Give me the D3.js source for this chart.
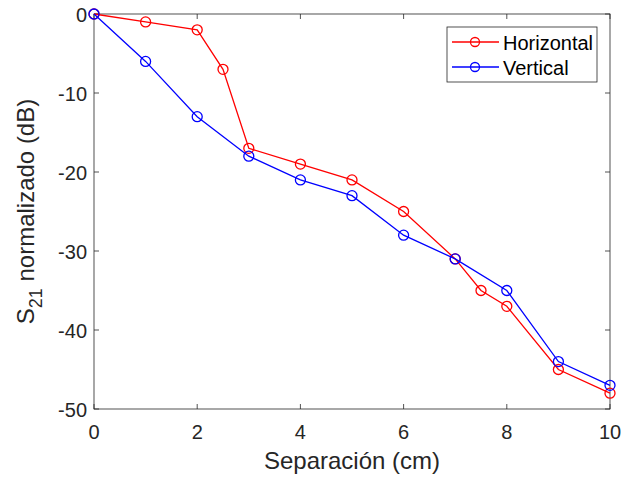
<!DOCTYPE html>
<html>
<head>
<meta charset="utf-8">
<script src="https://cdn.jsdelivr.net/npm/d3@7"></script>
<style>
  body { margin: 0; background: #fff; }
  text { font-family: "Liberation Sans", Arial, sans-serif; }
</style>
</head>
<body>
<div id="chart"></div>
<script>
// data
var horizX = [0, 1, 2, 2.5, 3, 4, 5, 6, 7, 7.5, 8, 9, 10];
var horizY = [0, -1, -2, -7, -17, -19, -21, -25, -31, -35, -37, -45, -48];
var vertX = [0, 1, 2, 3, 4, 5, 6, 7, 8, 9, 10];
var vertY = [0, -6, -13, -18, -21, -23, -28, -31, -35, -44, -47];
var xTicks = [0, 2, 4, 6, 8, 10];
var yTicks = [0, -10, -20, -30, -40, -50];

var W = 635, H = 477;
var mLeft = 94, mRight = 610, mTop = 14, mBottom = 409;

var svg = d3.select("#chart").append("svg").attr("width", W).attr("height", H);

var x = d3.scaleLinear().domain([0, 10]).range([mLeft, mRight]);
var y = d3.scaleLinear().domain([-50, 0]).range([mBottom, mTop]);

var axisColor = "#262626";
var tickLen = 5;

// box
svg.append("rect")
    .attr("x", mLeft).attr("y", mTop)
    .attr("width", mRight - mLeft).attr("height", mBottom - mTop)
    .attr("fill", "none").attr("stroke", axisColor).attr("stroke-width", 0.8);

// ticks, inside, on all four sides
xTicks.forEach(function(t){
    svg.append("line").attr("x1", x(t)).attr("x2", x(t)).attr("y1", mBottom).attr("y2", mBottom - tickLen)
        .attr("stroke", axisColor).attr("stroke-width", 0.8);
    svg.append("line").attr("x1", x(t)).attr("x2", x(t)).attr("y1", mTop).attr("y2", mTop + tickLen)
        .attr("stroke", axisColor).attr("stroke-width", 0.8);
    svg.append("text").attr("x", x(t)).attr("y", mBottom + 30)
        .attr("text-anchor", "middle").attr("font-size", 20).attr("fill", axisColor)
        .text(t);
});
yTicks.forEach(function(t){
    svg.append("line").attr("x1", mLeft).attr("x2", mLeft + tickLen).attr("y1", y(t)).attr("y2", y(t))
        .attr("stroke", axisColor).attr("stroke-width", 0.8);
    svg.append("line").attr("x1", mRight).attr("x2", mRight - tickLen).attr("y1", y(t)).attr("y2", y(t))
        .attr("stroke", axisColor).attr("stroke-width", 0.8);
    svg.append("text").attr("x", mLeft - 7).attr("y", y(t) + 8)
        .attr("text-anchor", "end").attr("font-size", 20).attr("fill", axisColor)
        .text(t);
});

// axis labels
svg.append("text").attr("x", (mLeft + mRight) / 2).attr("y", 469)
    .attr("text-anchor", "middle").attr("font-size", 24).attr("fill", axisColor)
    .text("Separación (cm)");

var yl = svg.append("text")
    .attr("transform", "translate(34," + ((mTop + mBottom) / 2) + ") rotate(-90)")
    .attr("text-anchor", "middle").attr("font-size", 24).attr("fill", axisColor);
yl.append("tspan").text("S");
yl.append("tspan").attr("font-size", 18).attr("dy", 8).text("21");
yl.append("tspan").attr("dy", -8).text(" normalizado (dB)");

// series
var series = [
    {name: "Horizontal", xs: horizX, ys: horizY, color: "#ff0000"},
    {name: "Vertical", xs: vertX, ys: vertY, color: "#0000ff"}
];

var line = d3.line().x(function(d){ return x(d[0]); }).y(function(d){ return y(d[1]); });

series.forEach(function(s){
    var pts = s.xs.map(function(v, i){ return [v, s.ys[i]]; });
    svg.append("path").datum(pts).attr("d", line)
        .attr("fill", "none").attr("stroke", s.color).attr("stroke-width", 1.3);
    svg.selectAll(null).data(pts).enter().append("circle")
        .attr("cx", function(d){ return x(d[0]); })
        .attr("cy", function(d){ return y(d[1]); })
        .attr("r", 5).attr("fill", "none").attr("stroke", s.color).attr("stroke-width", 1.3);
});

// legend
var lg = svg.append("g");
lg.append("rect").attr("x", 447).attr("y", 27).attr("width", 150).attr("height", 55)
    .attr("fill", "#fff").attr("stroke", axisColor).attr("stroke-width", 0.8);
series.forEach(function(s, i){
    var ly = 42 + i * 25;
    lg.append("line").attr("x1", 452).attr("x2", 499).attr("y1", ly).attr("y2", ly)
        .attr("stroke", s.color).attr("stroke-width", 1.3);
    lg.append("circle").attr("cx", 475).attr("cy", ly).attr("r", 4.5)
        .attr("fill", "none").attr("stroke", s.color).attr("stroke-width", 1.3);
    lg.append("text").attr("x", 503).attr("y", ly + 7.5)
        .attr("font-size", 20).attr("fill", "#000").text(s.name);
});
</script>
</body>
</html>
